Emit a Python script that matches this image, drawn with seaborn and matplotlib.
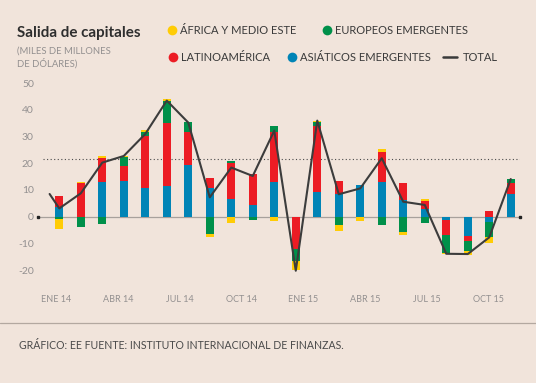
import matplotlib
matplotlib.use("Agg")
import matplotlib.pyplot as plt
import seaborn as sns
import numpy as np
import pandas as pd

# datos (miles de millones de dólares), ene 14 - oct 15
meses = ["ENE 14", "FEB 14", "MAR 14", "ABR 14", "MAY 14", "JUN 14", "JUL 14", "AGO 14",
         "SEP 14", "OCT 14", "NOV 14", "DIC 14", "ENE 15", "FEB 15", "MAR 15", "ABR 15",
         "MAY 15", "JUN 15", "JUL 15", "AGO 15", "SEP 15", "OCT 15"]
asia = [3.75, 0, 12.9, 13.5, 10.9, 11.5, 19.4, 10.6, 6.5, 4.25, 12.9, 0,
        9.4, 8.5, 11.75, 13.1, 6.25, 2.9, -1.25, -7.25, -1.9, 8.5]
latam = [4.0, 12.5, 9.2, 5.6, 19.5, 23.75, 12.5, 3.8, 13.5, 11.75, 18.9, -12,
         24.4, 4.9, 0, 11.3, 6.5, 2.9, -5.6, -1.75, 2.25, 4.25]
europa = [-1.0, -4.0, -2.9, 3.4, 1.5, 8.25, 3.4, -6.5, 0.75, -1.25, 2.25, -4.6,
          1.5, -3.25, 0, -3.1, -5.9, -2.5, -6.6, -4.0, -5.6, 1.35]
africa = [-3.75, 0.6, 0.8, 0.4, 0.6, 0.75, 0, -1.0, -2.25, 0, -1.75, -3.4,
          0.6, -2.0, -1.5, 0.9, -0.85, 0.75, -0.6, -1.4, -2.5, 0]
total = [3.1, 8.75, 20.25, 22.75, 31, 43.5, 35.25, 7.25, 18.4, 15.25, 32.25, -20.25,
         36, 8.4, 10.6, 21.9, 5.6, 4.4, -13.9, -14, -7.75, 14.1]
total_previo = 8.5  # dic 13, la línea arranca antes de la primera barra
media = 21.75
etiquetas = ["ENE 14", "ABR 14", "JUL 14", "OCT 14", "ENE 15", "ABR 15", "JUL 15", "OCT 15"]

# colores
fondo = "#F1E4DB"
colores = {"asia": "#0084B6", "latam": "#EC1C24", "europa": "#00904A", "africa": "#FFCC05"}
gris_txt = "#939090"

sns.set_theme(style="white", rc={"axes.facecolor": fondo, "figure.facecolor": fondo})
plt.rcParams["font.family"] = ["Lato", "DejaVu Sans"]

fig = plt.figure(figsize=(5.36, 3.83), dpi=100)
W, H = 536, 383
ax = fig.add_axes([38 / W, 1 - 283.4 / H, (520 - 38) / W, (283.4 - 77.9) / H])

x = np.arange(len(meses))
df = pd.DataFrame({"asia": asia, "latam": latam, "europa": europa, "africa": africa}, index=x)

# barras apiladas (positivos hacia arriba, negativos hacia abajo)
pos = np.zeros(len(x))
neg = np.zeros(len(x))
for serie in ["asia", "latam", "europa", "africa"]:
    v = df[serie].values
    base = np.where(v >= 0, pos, neg)
    ax.bar(x, v, bottom=base, width=0.39, color=colores[serie], linewidth=0, zorder=2)
    pos = pos + np.clip(v, 0, None)
    neg = neg + np.clip(v, None, 0)

# línea del total
linea = pd.DataFrame({"x": np.r_[-0.45, x], "total": [total_previo] + total})
sns.lineplot(data=linea, x="x", y="total", ax=ax, color="#3C3C3C", linewidth=1.5, zorder=4)

ax.axhline(0, color="#A8A19C", linewidth=0.9, zorder=1)
ax.axhline(media, xmin=0.01, xmax=1, color="#4A4A4A", linewidth=0.8, linestyle=(0, (1, 2.2)), zorder=1)
ax.plot([-0.99, 21.43], [0, 0], "s", color="#222222", markersize=1.8, clip_on=False, zorder=3)

ax.set_xlim(-0.99, 21.43)
ax.set_ylim(-25, 52)
ax.set_yticks(range(-20, 51, 10))
ax.set_yticklabels([str(t) for t in range(-20, 51, 10)])
ax.set_xticks(np.arange(8) * 2.87 - 0.14)
ax.set_xticklabels(etiquetas)
ax.tick_params(axis="y", length=0, pad=3, labelsize=7.5, labelcolor=gris_txt)
ax.tick_params(axis="x", length=0, pad=8, labelsize=6.5, labelcolor=gris_txt)
ax.set_xlabel("")
ax.set_ylabel("")
sns.despine(ax=ax, left=True, bottom=True)

# capa de anotaciones en píxeles
ov = fig.add_axes([0, 0, 1, 1], zorder=5)
ov.set_xlim(0, W)
ov.set_ylim(H, 0)
ov.axis("off")
ov.patch.set_visible(False)

ov.text(17, 36.5, "Salida de capitales", fontsize=10.9, fontweight="bold", color="#2E2E2E", va="baseline")
ov.text(17, 53.3, "(MILES DE MILLONES", fontsize=6.8, color=gris_txt, va="baseline")
ov.text(17, 66.7, "DE DÓLARES)", fontsize=6.8, color=gris_txt, va="baseline")

leyenda = [(172, 30, colores["africa"], "ÁFRICA Y MEDIO ESTE"),
           (327, 30, colores["europa"], "EUROPEOS EMERGENTES"),
           (173, 57, colores["latam"], "LATINOAMÉRICA"),
           (292, 57, colores["asia"], "ASIÁTICOS EMERGENTES")]
for px, py, c, txt in leyenda:
    ov.plot(px, py, "o", color=c, markersize=7, markeredgewidth=0)
    ov.text(px + 8, py + 4.3, txt, fontsize=8.0, color="#3A3A3A", va="baseline")
ov.plot([443, 457], [57, 57], color="#3A3A3A", linewidth=1.8)
ov.text(463, 61.3, "TOTAL", fontsize=8.0, color="#3A3A3A", va="baseline")

ov.plot([0, W], [322.7, 322.7], color="#B3A8A0", linewidth=0.9)
ov.text(19, 349, "GRÁFICO: EE FUENTE: INSTITUTO INTERNACIONAL DE FINANZAS.", fontsize=7.6,
        color="#4A4A4A", va="baseline")

fig.savefig("out.png", dpi=100, facecolor=fondo)
